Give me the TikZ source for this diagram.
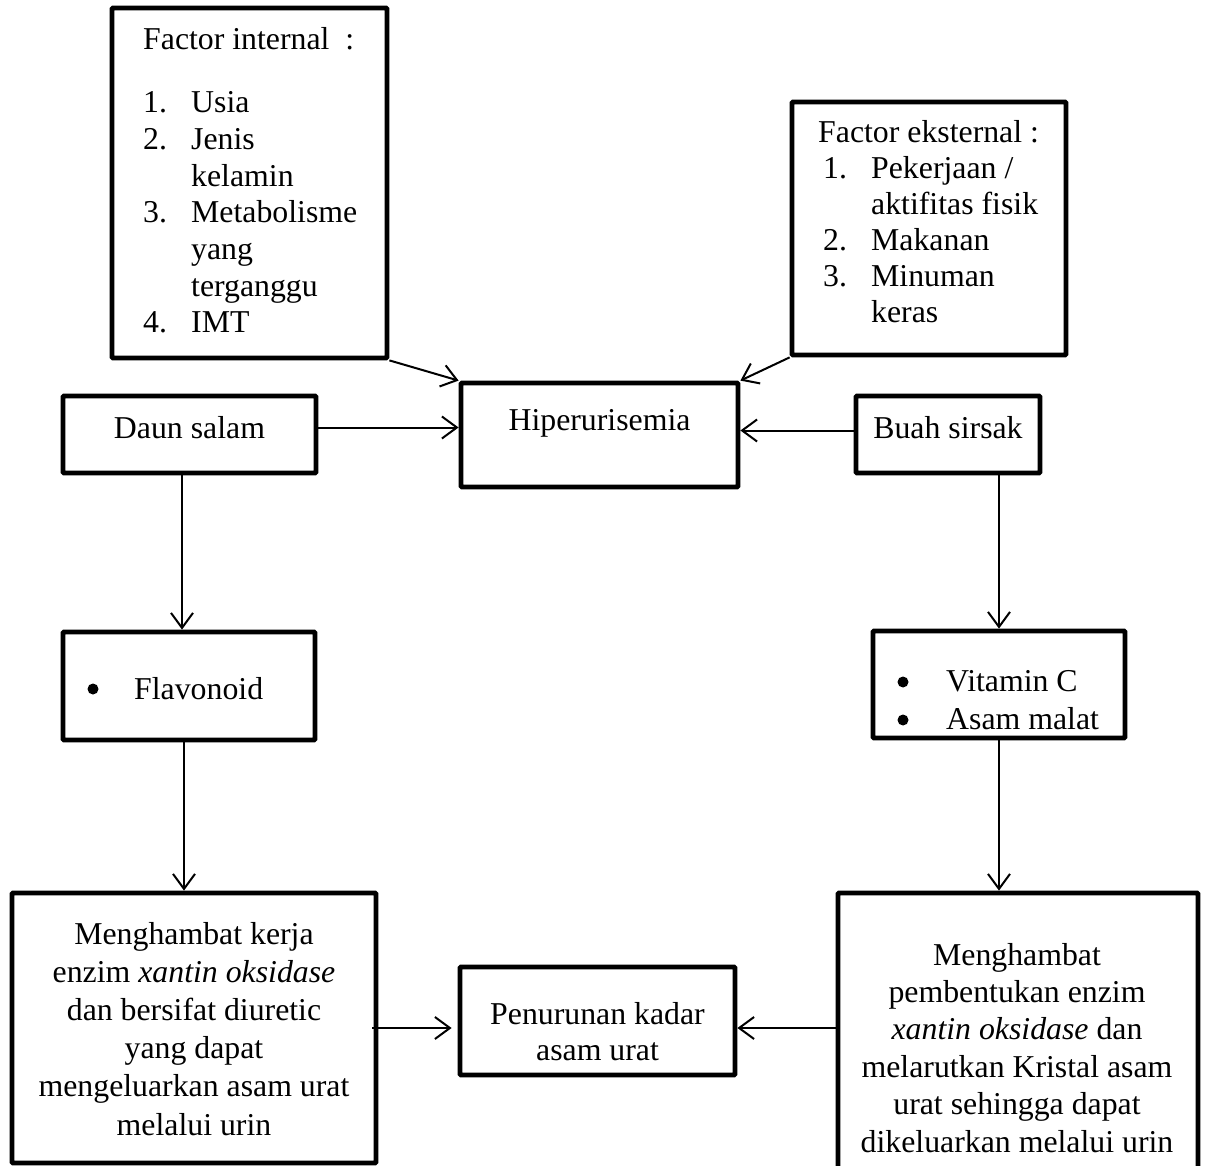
\documentclass[tikz,border=0pt]{standalone}
\usepackage{fontspec}
\setmainfont{Liberation Serif}
\usetikzlibrary{arrows.meta}
\begin{document}
\begin{tikzpicture}[x=1pt,y=-1pt,
  box/.style={draw, line width=4.8pt, rounded corners=1pt, inner sep=0pt},
  conn/.style={line width=2pt, -{Straight Barb[length=15pt,width=22pt,line width=2pt]}},
  txt/.style={inner sep=0pt, font=\fontsize{31.8}{37.5}\selectfont},
  bul/.style={circle, fill=black, inner sep=0pt, minimum size=11pt}]
\useasboundingbox (0,0) rectangle (1208,1166);
\fill[white] (0,0) rectangle (1208,1166);
% boxes
\node[box, minimum width=275pt, minimum height=350pt] (int) at (249.5,183) {};
\node[box, minimum width=274pt, minimum height=253pt] (ext) at (929,228.5) {};
\node[box, minimum width=277pt, minimum height=104pt] (hip) at (599.5,435) {};
\node[box, minimum width=253pt, minimum height=77pt] (daun) at (189.5,434.5) {};
\node[box, minimum width=184pt, minimum height=77pt] (buah) at (948,434.5) {};
\node[box, minimum width=252pt, minimum height=108pt] (flav) at (189,686) {};
\node[box, minimum width=252pt, minimum height=107pt] (vit) at (999,684.5) {};
\node[box, minimum width=364pt, minimum height=270pt] (lb) at (194,1028) {};
\node[box, minimum width=275pt, minimum height=108pt] (pen) at (597.5,1021) {};
\node[box, minimum width=360pt, minimum height=307pt] (rb) at (1018,1046.5) {};
% texts (anchor base = baseline of the last line)
\node[txt, anchor=base west, align=left, font=\fontsize{31.8}{36.7}\selectfont] (intT) at (143,333)
  {Factor internal~~:\\[26.3pt]
   \makebox[48pt][l]{1.}Usia\\
   \makebox[48pt][l]{2.}Jenis\\
   \hspace*{48pt}kelamin\\
   \makebox[48pt][l]{3.}Metabolisme\\
   \hspace*{48pt}yang\\
   \hspace*{48pt}terganggu\\
   \makebox[48pt][l]{4.}IMT};
\node[txt, anchor=base west, align=left, font=\fontsize{31.8}{36}\selectfont] (extT) at (818,323)
  {Factor eksternal :\\
   \hspace*{5pt}\makebox[48pt][l]{1.}Pekerjaan /\\
   \hspace*{53pt}aktifitas fisik\\
   \hspace*{5pt}\makebox[48pt][l]{2.}Makanan\\
   \hspace*{5pt}\makebox[48pt][l]{3.}Minuman\\
   \hspace*{53pt}keras};
\node[txt, anchor=base] (hipT) at (599.5,430) {Hiperurisemia};
\node[txt, anchor=base] (daunT) at (189.5,438) {Daun salam};
\node[txt, anchor=base] (buahT) at (948,438) {Buah sirsak};
\node[bul] (flavB) at (93,689) {};
\node[txt, anchor=base west] (flavT) at (134,699) {Flavonoid};
\node[bul] (vitB1) at (903,682) {};
\node[bul] (vitB2) at (903,720) {};
\node[txt, anchor=base west] (vitT1) at (946,691) {Vitamin C};
\node[txt, anchor=base west] (vitT2) at (946,729) {Asam malat};
\node[txt, anchor=base, align=center, font=\fontsize{31.8}{38.2}\selectfont] (lbT) at (194,1135)
  {Menghambat kerja\\ enzim \textit{xantin oksidase}\\ dan bersifat diuretic\\ yang dapat\\ mengeluarkan asam urat\\ melalui urin};
\node[txt, anchor=base, align=center, font=\fontsize{31.8}{36}\selectfont] (penT) at (597.5,1060)
  {Penurunan kadar\\ asam urat};
\node[txt, anchor=base, align=center, font=\fontsize{31.8}{37.4}\selectfont] (rbT) at (1017,1152)
  {Menghambat\\ pembentukan enzim\\ \textit{xantin oksidase} dan\\ melarutkan Kristal asam\\ urat sehingga dapat\\ dikeluarkan melalui urin};
% connectors
\draw[conn] (int.south east) -- (hip.north west);
\draw[conn] (ext.south west) -- (hip.north east);
\draw[conn] ([yshift=7pt]daun.east) -- ([yshift=7pt]daun.east -| hip.west);
\draw[conn] ([yshift=4pt]buah.west) -- ([yshift=4pt]buah.west -| hip.east);
\draw[conn] ([xshift=-7.5pt]daun.south) -- ([xshift=-7.5pt]daun.south |- flav.north);
\draw[conn] ([xshift=-5pt]flav.south) -- ([xshift=-5pt]flav.south |- lb.north);
\draw[conn] (buah.south -| vit.north) -- (vit.north);
\draw[conn] (vit.south) -- (vit.south |- rb.north);
\draw[conn] ([xshift=-6pt]lb.east) -- ([xshift=-6pt]lb.east -| pen.west);
\draw[conn] (rb.west |- lb.east) -- (pen.east |- lb.east);
\end{tikzpicture}
\end{document}
